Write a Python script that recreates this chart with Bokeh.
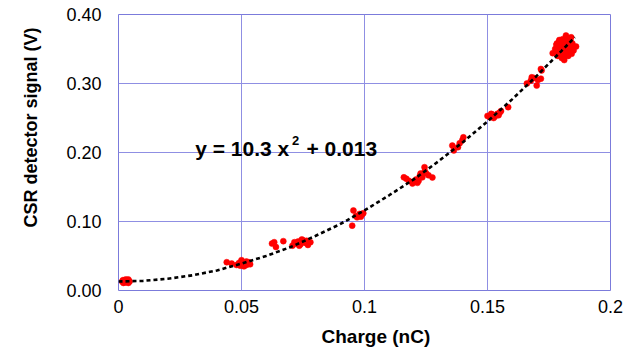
from bokeh.plotting import figure
from bokeh.models import Range1d, FixedTicker, Label, Title, ColumnDataSource
from bokeh.embed import file_html
from bokeh.resources import INLINE

# ---- data ----
charge_nC = [
    # ~0 nC
    0.0015, 0.002, 0.0025, 0.003, 0.0035, 0.004, 0.0045, 0.002, 0.003, 0.004, 0.0025, 0.0035, 0.0018, 0.0042,
    # ~0.05 nC
    0.044, 0.046, 0.048, 0.049, 0.0495, 0.050, 0.0505, 0.051, 0.0515, 0.052, 0.0525, 0.053, 0.0535, 0.050, 0.051, 0.049, 0.052, 0.0505,
    # ~0.065-0.078 nC
    0.0624, 0.0633, 0.064, 0.067,
    0.0707, 0.072, 0.073, 0.074, 0.075, 0.076, 0.077, 0.078, 0.0715, 0.0735, 0.0755, 0.0745, 0.0765, 0.0725,
    # ~0.097 nC
    0.095, 0.0955, 0.0965, 0.097, 0.098, 0.0985, 0.099, 0.0995,
    # ~0.12 nC
    0.116, 0.117, 0.118, 0.1195, 0.120, 0.121, 0.122, 0.1228, 0.1235, 0.1244, 0.125, 0.126, 0.1276, 0.1215, 0.1245, 0.1225,
    # ~0.138 nC
    0.1357, 0.1363, 0.138, 0.1387, 0.1398, 0.1402,
    # ~0.153 nC
    0.150, 0.151, 0.152, 0.153, 0.154, 0.1545, 0.155, 0.1555, 0.1584, 0.1515, 0.1525,
    # ~0.17 nC
    0.166, 0.1676, 0.169, 0.170, 0.1717, 0.172, 0.1717, 0.168, 0.1705,
    # ~0.181 nC
    0.1765, 0.1775, 0.178, 0.1785, 0.179, 0.1795, 0.180, 0.1805, 0.181, 0.1815, 0.182, 0.1825, 0.183, 0.1835,
    0.184, 0.1845, 0.185, 0.186, 0.1819, 0.1812, 0.1778, 0.1788, 0.1798, 0.1808, 0.1818, 0.1828, 0.1838, 0.1848,
    0.1792, 0.1802, 0.1822, 0.1832, 0.1782, 0.1842, 0.1806, 0.1816, 0.1796, 0.1826, 0.1786, 0.1836, 0.1809,
    0.1801, 0.1821, 0.1791, 0.1831, 0.184,
]
signal_V = [
    0.013, 0.011, 0.015, 0.012, 0.014, 0.016, 0.013, 0.014, 0.016, 0.011, 0.012, 0.013, 0.015, 0.014,
    0.041, 0.039, 0.037, 0.040, 0.036, 0.042, 0.038, 0.035, 0.040, 0.037, 0.039, 0.041, 0.038, 0.044, 0.036, 0.038, 0.042, 0.040,
    0.068, 0.070, 0.063, 0.0715,
    0.065, 0.068, 0.071, 0.067, 0.073, 0.069, 0.066, 0.070, 0.070, 0.065, 0.071, 0.074, 0.072, 0.068,
    0.094, 0.116, 0.108, 0.106, 0.111, 0.107, 0.110, 0.112,
    0.164, 0.162, 0.159, 0.155, 0.158, 0.161, 0.159, 0.1696, 0.164, 0.1787, 0.170, 0.167, 0.1638, 0.156, 0.173, 0.166,
    0.210, 0.203, 0.2077, 0.2135, 0.218, 0.222,
    0.253, 0.251, 0.255, 0.252, 0.256, 0.254, 0.258, 0.260, 0.2657, 0.256, 0.250,
    0.300, 0.304, 0.308, 0.297, 0.307, 0.319, 0.321, 0.309, 0.305,
    0.344, 0.350, 0.356, 0.341, 0.360, 0.347, 0.353, 0.364, 0.338, 0.357, 0.349, 0.362, 0.345, 0.355,
    0.351, 0.358, 0.348, 0.3536, 0.3696, 0.334, 0.346, 0.354, 0.342, 0.358, 0.366, 0.340, 0.360, 0.352,
    0.363, 0.337, 0.353, 0.349, 0.358, 0.343, 0.348, 0.344, 0.351, 0.357, 0.340, 0.365, 0.355,
    0.359, 0.342, 0.347, 0.352, 0.367,
]

# fitted curve y = 10.3 x^2 + 0.013
fit_x = [0.0, 0.01, 0.02, 0.03, 0.04, 0.05, 0.06, 0.07, 0.08, 0.09, 0.10,
         0.11, 0.12, 0.13, 0.14, 0.15, 0.16, 0.17, 0.18, 0.1855]
fit_y = [0.013, 0.014, 0.017, 0.022, 0.029, 0.039, 0.050, 0.063, 0.079, 0.096, 0.116,
         0.138, 0.161, 0.187, 0.215, 0.245, 0.277, 0.311, 0.347, 0.367]

x_ticks = [0, 0.05, 0.1, 0.15, 0.2]
x_tick_labels = ["0", "0.05", "0.1", "0.15", "0.2"]
y_ticks = [0, 0.1, 0.2, 0.3, 0.4]
y_tick_labels = ["0.00", "0.10", "0.20", "0.30", "0.40"]

fit_label_parts = ["y = 10.3 x", "2", "+ 0.013"]
x_title = "Charge (nC)"
y_title = "CSR detector signal (V)"

FONT = "Liberation Sans"
GRID = "#8f8fe3"

p = figure(width=635, height=356, output_backend="svg", toolbar_location=None,
           x_range=Range1d(0, 0.2), y_range=Range1d(0, 0.4),
           min_border_left=118, min_border_right=25, min_border_top=14, min_border_bottom=66)
p.background_fill_color = "white"
p.border_fill_color = "white"
p.outline_line_color = "#7b7bdb"
p.outline_line_width = 1

p.xaxis.ticker = FixedTicker(ticks=x_ticks)
p.yaxis.ticker = FixedTicker(ticks=y_ticks)
p.xaxis.major_label_overrides = {t: l for t, l in zip(x_ticks, x_tick_labels)}
p.yaxis.major_label_overrides = {t: l for t, l in zip(y_ticks, y_tick_labels)}

for ax in (p.xaxis, p.yaxis):
    ax.axis_line_color = None
    ax.major_tick_line_color = None
    ax.minor_tick_line_color = None
    ax.major_label_text_font = FONT
    ax.major_label_text_font_size = "18px"
    ax.major_label_text_color = "black"

p.xaxis.major_label_standoff = 3
p.yaxis.major_label_standoff = 11

p.grid.grid_line_color = GRID
p.grid.grid_line_width = 1

src = ColumnDataSource(dict(x=charge_nC, y=signal_V))
p.scatter("x", "y", source=src, size=6, fill_color="#ff0000", line_color="#ff0000", line_width=0.5)

p.line(fit_x, fit_y, line_color="black", line_width=2.6, line_dash="4 3")

# fit equation, with a raised "2"
def eq_label(x, y, txt, size):
    return Label(x=x, y=y, text=txt, text_font=FONT, text_font_style="bold",
                 text_font_size=size, text_color="black", text_baseline="alphabetic")

p.add_layout(eq_label(0.0312, 0.2054, fit_label_parts[0], "21px"))
p.add_layout(eq_label(0.0705, 0.2180, fit_label_parts[1], "13px"))
p.add_layout(eq_label(0.0764, 0.2054, fit_label_parts[2], "21px"))

# axis titles as side titles (offset along the axis, as in the reference)
p.add_layout(Title(text=x_title, align="left", offset=203, standoff=17, vertical_align="bottom",
                   text_font=FONT, text_font_style="bold", text_font_size="19px",
                   text_color="black"), "below")
p.add_layout(Title(text=y_title, align="left", offset=63, standoff=41, vertical_align="top",
                   text_font=FONT, text_font_style="bold", text_font_size="18px",
                   text_color="black"), "left")

open("out.html", "w").write(file_html(p, INLINE))
